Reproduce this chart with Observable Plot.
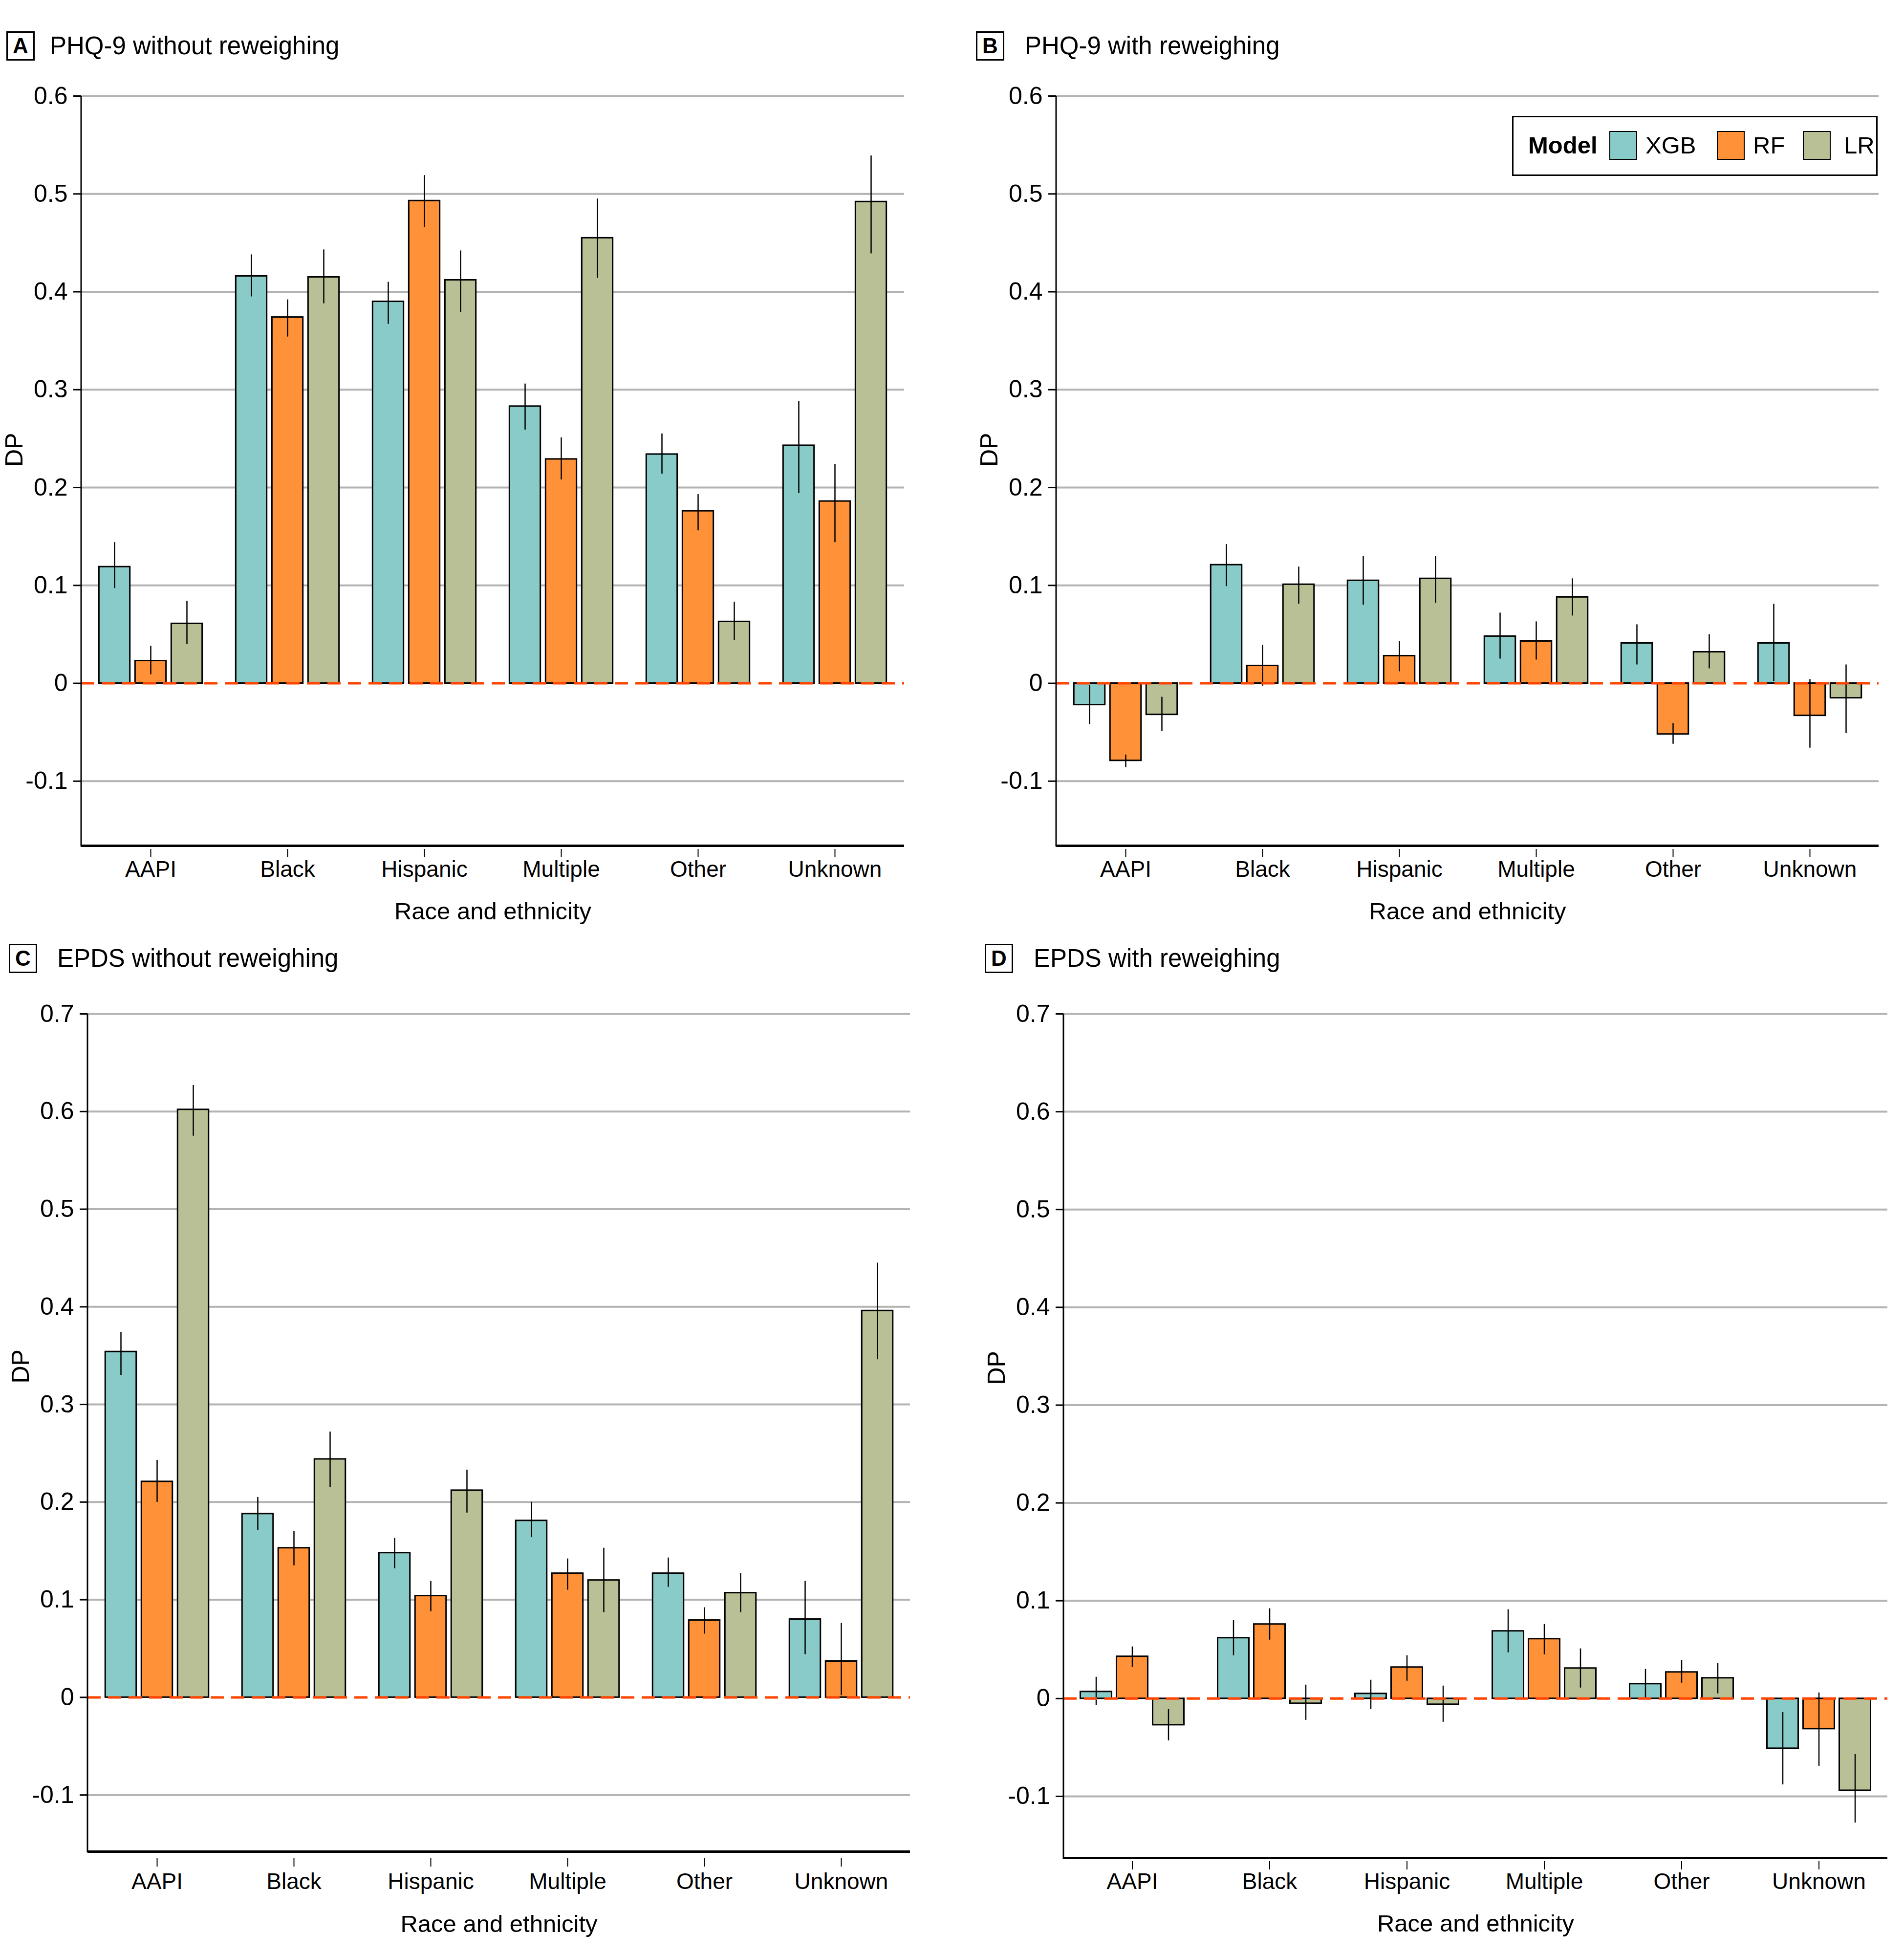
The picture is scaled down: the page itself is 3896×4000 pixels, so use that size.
<!DOCTYPE html>
<html>
<head>
<meta charset="utf-8">
<script src="https://cdn.jsdelivr.net/npm/d3@7"></script>
<script src="https://cdn.jsdelivr.net/npm/@observablehq/plot@0.6"></script>
<style>
  html, body { margin: 0; padding: 0; background: #fff; }
  #root { position: relative; width: 3896px; height: 4000px; background: #fff;
          font-family: "Liberation Sans", Arial, sans-serif; color: #000; overflow: hidden; }
  .panel { position: absolute; }
  .tbox { position: absolute; width: 52px; height: 54px; border: 3px solid #000; box-sizing: content-box;
          font-weight: bold; font-size: 44px; line-height: 54px; text-align: center; }
  .ttext { position: absolute; font-size: 51px; line-height: 58px; white-space: nowrap; }
  .legend { position: absolute; border: 3px solid #000; background: #fff; }
  .legend .lt { position: absolute; font-size: 49px; line-height: 59px; white-space: nowrap; }
  .legend .sw { position: absolute; width: 53px; height: 55px; border: 2px solid #000; }
</style>
</head>
<body>
<div id="root"></div>
<script>
// ---------------- data ----------------
const races = ["AAPI", "Black", "Hispanic", "Multiple", "Other", "Unknown"];
const models = ["XGB", "RF", "LR"];
const modelColors = ["#89cbc8", "#ff9238", "#b9c096"];

const phqTicks = [-0.1, 0, 0.1, 0.2, 0.3, 0.4, 0.5, 0.6];
const phqTickLabels = ["-0.1", "0", "0.1", "0.2", "0.3", "0.4", "0.5", "0.6"];
const epdsTicks = [-0.1, 0, 0.1, 0.2, 0.3, 0.4, 0.5, 0.6, 0.7];
const epdsTickLabels = ["-0.1", "0", "0.1", "0.2", "0.3", "0.4", "0.5", "0.6", "0.7"];

// A: PHQ-9 without reweighing  (rows: XGB, RF, LR; columns follow races)
const phqNoRwValue = [
  [0.119, 0.416, 0.390, 0.283, 0.234, 0.243],
  [0.023, 0.374, 0.493, 0.229, 0.176, 0.186],
  [0.061, 0.415, 0.412, 0.455, 0.063, 0.492]
];
const phqNoRwLow = [
  [0.097, 0.395, 0.367, 0.259, 0.214, 0.194],
  [0.009, 0.354, 0.466, 0.208, 0.156, 0.144],
  [0.040, 0.388, 0.379, 0.414, 0.044, 0.439]
];
const phqNoRwHigh = [
  [0.144, 0.438, 0.410, 0.306, 0.255, 0.288],
  [0.038, 0.392, 0.519, 0.251, 0.193, 0.224],
  [0.084, 0.443, 0.442, 0.495, 0.083, 0.539]
];

// B: PHQ-9 with reweighing
const phqRwValue = [
  [-0.022, 0.121, 0.105, 0.048, 0.041, 0.041],
  [-0.079, 0.018, 0.028, 0.043, -0.052, -0.033],
  [-0.032, 0.101, 0.107, 0.088, 0.032, -0.015]
];
const phqRwLow = [
  [-0.042, 0.099, 0.080, 0.025, 0.019, 0.002],
  [-0.086, -0.003, 0.012, 0.024, -0.062, -0.066],
  [-0.049, 0.081, 0.082, 0.069, 0.015, -0.051]
];
const phqRwHigh = [
  [-0.002, 0.142, 0.130, 0.072, 0.060, 0.081],
  [-0.073, 0.039, 0.043, 0.063, -0.041, 0.004],
  [-0.014, 0.119, 0.130, 0.107, 0.050, 0.019]
];

// C: EPDS without reweighing
const epdsNoRwValue = [
  [0.354, 0.188, 0.148, 0.181, 0.127, 0.080],
  [0.221, 0.153, 0.104, 0.127, 0.079, 0.037],
  [0.602, 0.244, 0.212, 0.120, 0.107, 0.396]
];
const epdsNoRwLow = [
  [0.330, 0.171, 0.132, 0.164, 0.113, 0.044],
  [0.200, 0.135, 0.088, 0.110, 0.065, 0.002],
  [0.575, 0.215, 0.189, 0.087, 0.087, 0.346]
];
const epdsNoRwHigh = [
  [0.374, 0.205, 0.163, 0.200, 0.143, 0.119],
  [0.243, 0.170, 0.119, 0.142, 0.092, 0.076],
  [0.627, 0.272, 0.233, 0.153, 0.127, 0.445]
];

// D: EPDS with reweighing
const epdsRwValue = [
  [0.007, 0.062, 0.005, 0.069, 0.015, -0.051],
  [0.043, 0.076, 0.032, 0.061, 0.027, -0.031],
  [-0.027, -0.005, -0.006, 0.031, 0.021, -0.094]
];
const epdsRwLow = [
  [-0.007, 0.044, -0.011, 0.047, 0.000, -0.088],
  [0.032, 0.060, 0.018, 0.045, 0.016, -0.069],
  [-0.043, -0.022, -0.024, 0.011, 0.005, -0.127]
];
const epdsRwHigh = [
  [0.022, 0.080, 0.019, 0.091, 0.030, -0.014],
  [0.053, 0.092, 0.044, 0.076, 0.039, 0.006],
  [-0.011, 0.014, 0.013, 0.051, 0.036, -0.057]
];

const panelTitles = ["PHQ-9 without reweighing", "PHQ-9 with reweighing", "EPDS without reweighing", "EPDS with reweighing"];
const panelLetters = ["A", "B", "C", "D"];
const yLabel = "DP";
const xLabel = "Race and ethnicity";
const legendTitle = "Model";

// ---------------- style ----------------
const FONT = '"Liberation Sans", Arial, sans-serif';
const GRID = "#b3b3b3";
const ZERO = "#ff4500";
const BAR_W = 64, BAR_STEP = 74;

const root = document.getElementById("root");

function makePanel(cfg) {
  const rows = [];
  models.forEach((m, k) => races.forEach((r, i) => rows.push({
    race: r, model: m, value: cfg.value[k][i], lo: cfg.low[k][i], hi: cfg.high[k][i]
  })));
  const bandwidth = (cfg.width - cfg.ml - cfg.mr) / races.length;
  const inset = (bandwidth - BAR_W) / 2;
  const labelOf = new Map(cfg.ticks.map((t, i) => [t, cfg.tickLabels[i]]));

  const marks = [
    Plot.ruleY(cfg.ticks.filter(d => d !== 0), {stroke: GRID, strokeWidth: 4})
  ];
  models.forEach((m, k) => {
    const d = rows.filter(r => r.model === m);
    const dx = (k - 1) * BAR_STEP;
    marks.push(Plot.barY(d, {x: "race", y: "value", fill: modelColors[k], stroke: "#000", strokeWidth: 3,
      insetLeft: inset, insetRight: inset, dx}));
  });
  models.forEach((m, k) => {
    const d = rows.filter(r => r.model === m);
    const dx = (k - 1) * BAR_STEP;
    marks.push(Plot.ruleX(d, {x: "race", y1: "lo", y2: "hi", stroke: "#000", strokeWidth: 2.5, dx}));
  });
  marks.push(Plot.ruleY([cfg.axisMin], {stroke: "#000", strokeWidth: 5}));
  marks.push(Plot.ruleY([0], {stroke: ZERO, strokeWidth: 5, strokeDasharray: "27,15"}));
  marks.push(Plot.axisY({ticks: cfg.ticks, tickFormat: d => labelOf.get(d), tickSize: 16, tickPadding: 12,
    fontSize: 50, strokeWidth: 3, label: null}));
  marks.push(Plot.axisX({tickSize: 17, tickPadding: cfg.xtp, fontSize: 46, strokeWidth: 2, label: null}));
  marks.push(Plot.text([yLabel], {text: d => d, frameAnchor: "left", dx: -137, dy: cfg.dpDy, rotate: -90, fontSize: 50}));
  marks.push(Plot.text([xLabel], {text: d => d, frameAnchor: "bottom", dy: cfg.xlDy, lineAnchor: "top", fontSize: 49}));

  const svg = Plot.plot({
    width: cfg.width, height: cfg.height,
    marginLeft: cfg.ml, marginRight: cfg.mr, marginTop: cfg.mt, marginBottom: cfg.mb,
    x: {type: "band", domain: races, paddingInner: 0, paddingOuter: 0},
    y: {domain: [cfg.axisMin - cfg.gap / 2000, cfg.yMax]},
    style: {fontFamily: FONT, fontSize: "50px", color: "#000", background: "transparent", overflow: "visible"},
    marks
  });
  // y-axis line along the left edge of the frame, from the top tick down to the x-axis line
  const xs = svg.scale("x"), ys = svg.scale("y");
  const yLin = d3.scaleLinear(ys.domain, ys.range);
  d3.select(svg).append("line")
    .attr("x1", xs.range[0]).attr("x2", xs.range[0])
    .attr("y1", yLin(cfg.yMax)).attr("y2", yLin(cfg.axisMin) + 2)
    .attr("stroke", "#000").attr("stroke-width", 3);

  const div = document.createElement("div");
  div.className = "panel";
  div.style.left = cfg.left + "px";
  div.style.top = cfg.top + "px";
  div.appendChild(svg);
  root.appendChild(div);

  const box = document.createElement("div");
  box.className = "tbox";
  box.style.left = cfg.boxX + "px"; box.style.top = cfg.boxY + "px";
  box.textContent = cfg.letter;
  root.appendChild(box);
  const tt = document.createElement("div");
  tt.className = "ttext";
  tt.style.left = cfg.textX + "px"; tt.style.top = (cfg.boxY + 1) + "px";
  tt.textContent = cfg.title;
  root.appendChild(tt);
}

makePanel({letter: panelLetters[0], title: panelTitles[0], value: phqNoRwValue, low: phqNoRwLow, high: phqNoRwHigh,
  ticks: phqTicks, tickLabels: phqTickLabels, yMax: 0.6, axisMin: -0.166, gap: 7,
  left: 0, top: 150, width: 1900, height: 1760, ml: 166, mr: 50, mt: 46, mb: 173, dpDy: -12, xlDy: 109, xtp: 7,
  boxX: 13, boxY: 64, textX: 102});
makePanel({letter: panelLetters[1], title: panelTitles[1], value: phqRwValue, low: phqRwLow, high: phqRwHigh,
  ticks: phqTicks, tickLabels: phqTickLabels, yMax: 0.6, axisMin: -0.166, gap: 7,
  left: 1950, top: 150, width: 1946, height: 1760, ml: 211, mr: 52, mt: 46, mb: 173, dpDy: -12, xlDy: 109, xtp: 7,
  boxX: 1997, boxY: 64, textX: 2097});
makePanel({letter: panelLetters[2], title: panelTitles[2], value: epdsNoRwValue, low: epdsNoRwLow, high: epdsNoRwHigh,
  ticks: epdsTicks, tickLabels: epdsTickLabels, yMax: 0.7, axisMin: -0.158, gap: 14,
  left: 0, top: 2030, width: 1910, height: 1960, ml: 179, mr: 48, mt: 44, mb: 188, dpDy: -108, xlDy: 116, xtp: 13,
  boxX: 18, boxY: 1931, textX: 117});
makePanel({letter: panelLetters[3], title: panelTitles[3], value: epdsRwValue, low: epdsRwLow, high: epdsRwHigh,
  ticks: epdsTicks, tickLabels: epdsTickLabels, yMax: 0.7, axisMin: -0.163, gap: 7,
  left: 1950, top: 2030, width: 1946, height: 1960, ml: 226, mr: 34, mt: 44, mb: 182, dpDy: -108, xlDy: 109, xtp: 7,
  boxX: 2015, boxY: 1931, textX: 2115});

// legend (panel B, top right)
const lg = document.createElement("div");
lg.className = "legend";
lg.style.left = "3094px"; lg.style.top = "237px"; lg.style.width = "742px"; lg.style.height = "117px";
const lt = document.createElement("div");
lt.className = "lt"; lt.style.left = "30px"; lt.style.top = "28px"; lt.style.fontWeight = "bold";
lt.textContent = legendTitle;
lg.appendChild(lt);
const swX = [196, 416, 592], txX = [270, 490, 676];
models.forEach((m, k) => {
  const sw = document.createElement("div");
  sw.className = "sw"; sw.style.left = swX[k] + "px"; sw.style.top = "28px"; sw.style.background = modelColors[k];
  lg.appendChild(sw);
  const t = document.createElement("div");
  t.className = "lt"; t.style.left = txX[k] + "px"; t.style.top = "28px";
  t.textContent = m;
  lg.appendChild(t);
});
root.appendChild(lg);
</script>
</body>
</html>
